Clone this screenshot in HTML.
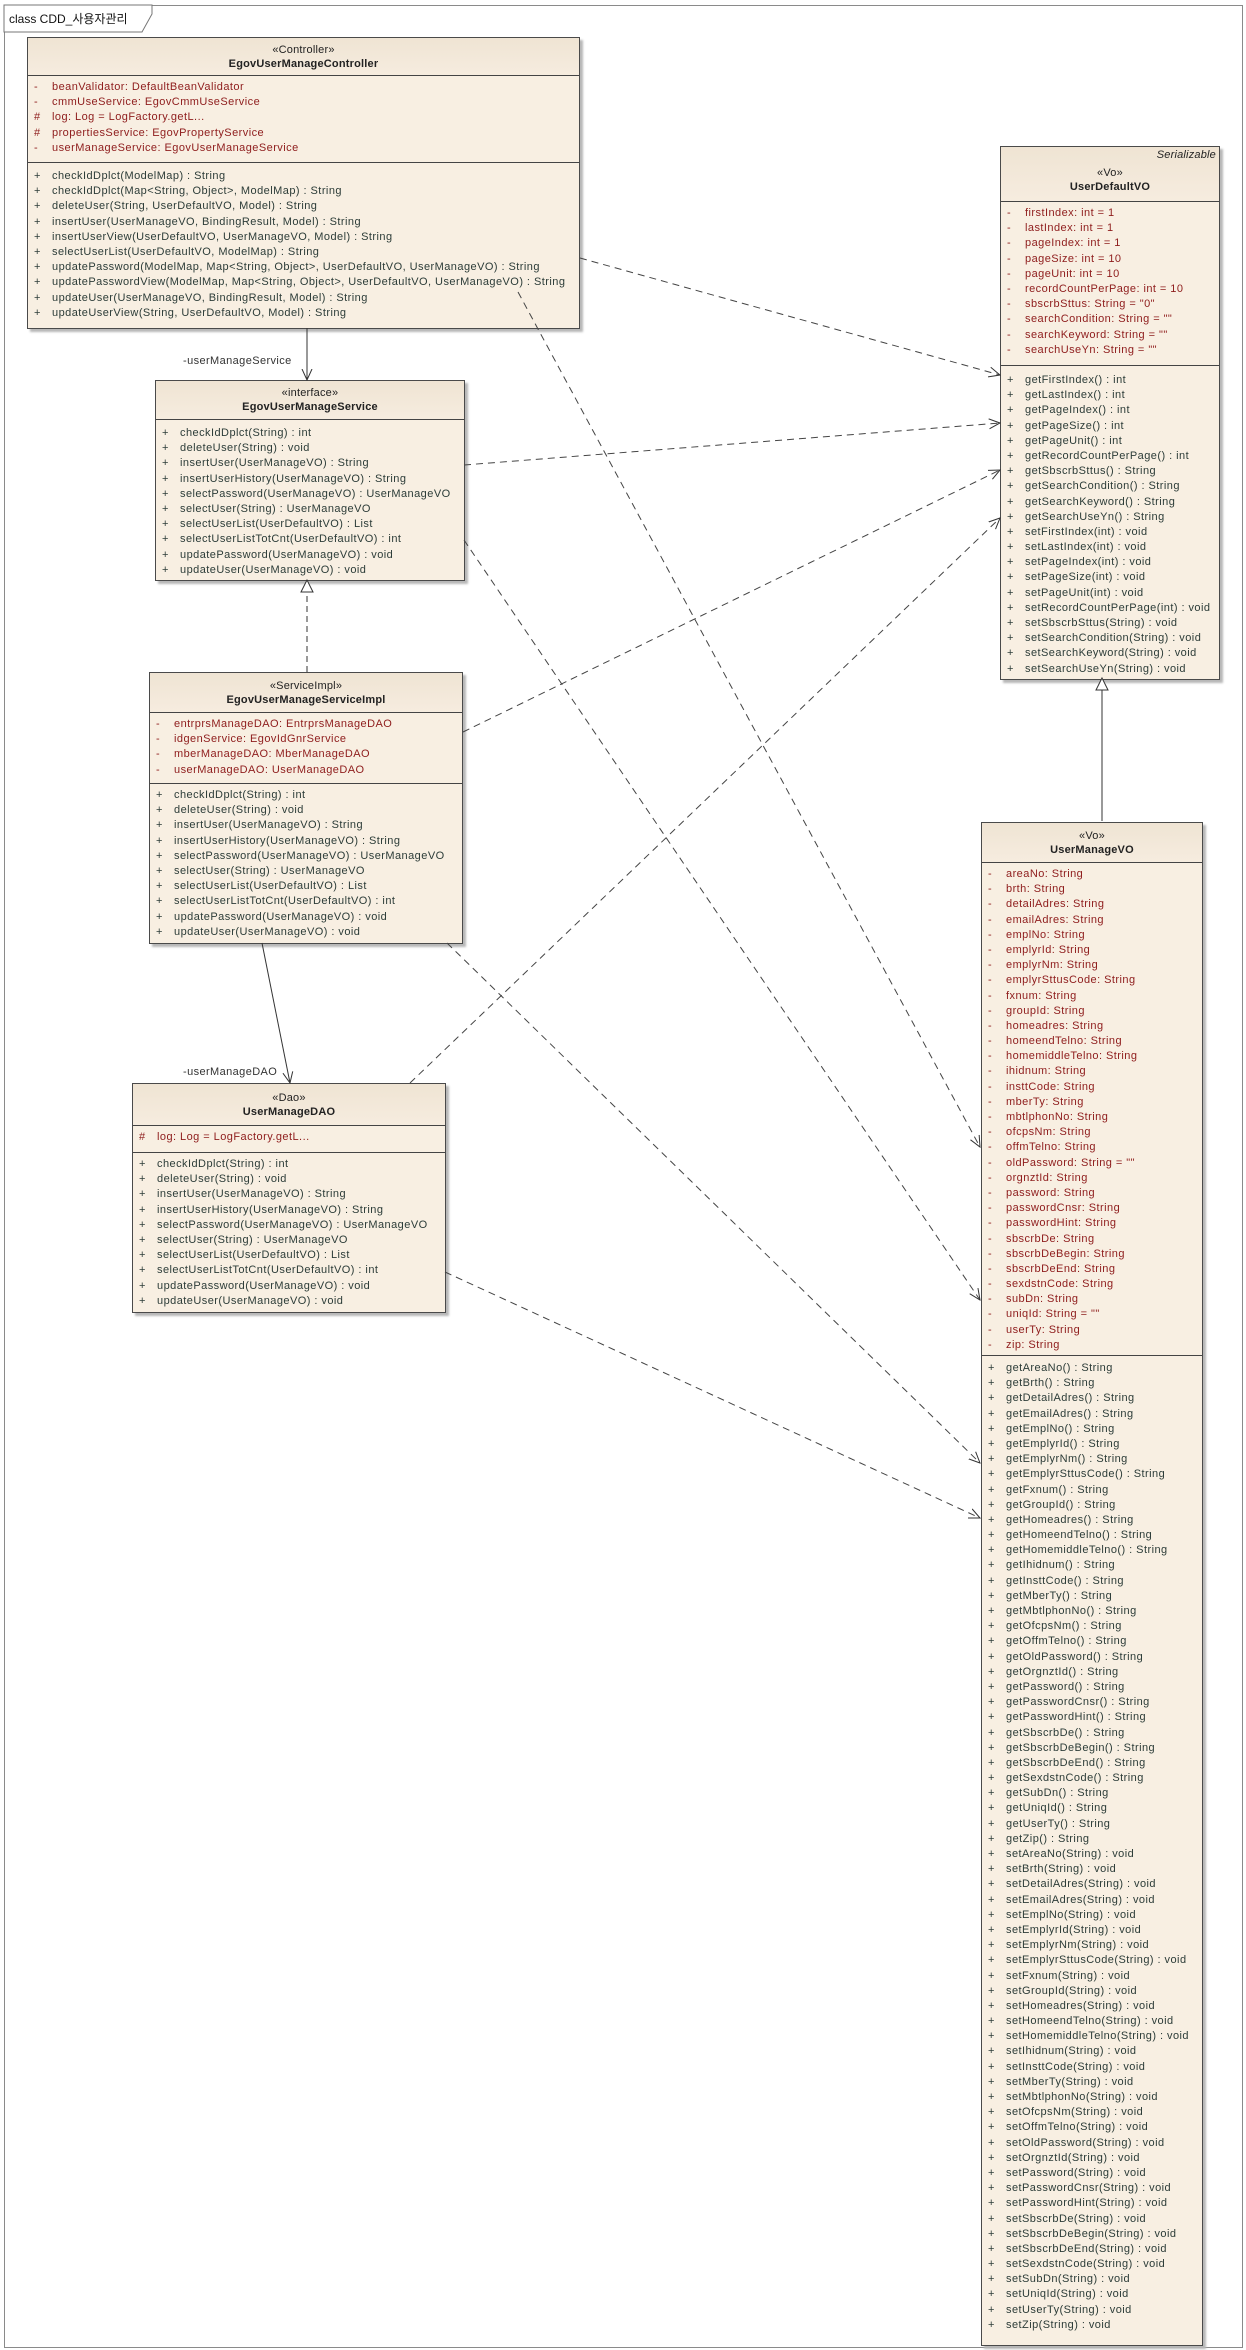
<!DOCTYPE html>
<html><head><meta charset="utf-8">
<style>
html,body{margin:0;padding:0;background:#fff;}
body{width:1246px;height:2350px;position:relative;overflow:hidden;font-family:"Liberation Sans","Noto Sans CJK KR",sans-serif;}
.frame{position:absolute;left:4px;top:5px;width:1237px;height:2341px;border:1px solid #8a8a8a;}
.box{position:absolute;background:#f8efe2;border:1px solid #4a4a4a;box-shadow:3px 3px 2px #b8b8b8;display:flex;flex-direction:column;font-size:11px;letter-spacing:0.45px;}
.hd{background:linear-gradient(#efe4d3,#f6ecdf);text-align:center;border-bottom:1px solid #444;box-sizing:border-box;display:flex;flex-direction:column;justify-content:center;color:#222;line-height:14px;letter-spacing:0.2px;}
.hd b{font-size:11px;}
.sec{box-sizing:border-box;padding-top:4px;}
.sec.a{border-bottom:1px solid #444;color:#8e1c1c;}
.sec.m{color:#2c3c38;}
.r{height:15.2px;line-height:15.2px;white-space:nowrap;position:relative;padding-left:24px;}
.r i{position:absolute;left:6px;font-style:normal;}
.lbl{position:absolute;font-size:11px;color:#333;letter-spacing:0.4px;}
svg{position:absolute;left:0;top:0;}
</style></head><body>
<div class="frame"></div>
<svg width="1246" height="2350" style="z-index:0">
<polygon points="4,5 152,5 152,14 142,32 4,32" fill="#fff" stroke="#777" stroke-width="1"/>
<text x="9" y="23" font-size="12" font-family="Liberation Sans, Noto Sans CJK KR, sans-serif" fill="#111">class CDD_사용자관리</text>
</svg>

<svg width="1246" height="2350" style="z-index:2;pointer-events:none">
<defs>
<marker id="op" markerWidth="12" markerHeight="12" refX="11" refY="6" orient="auto" markerUnits="userSpaceOnUse"><path d="M0,1 L11,6 L0,11" fill="none" stroke="#333" stroke-width="1"/></marker>
</defs>
<g stroke="#333" stroke-width="1" fill="none">
<line x1="307" y1="328" x2="307" y2="380" marker-end="url(#op)"/>
<line x1="262" y1="943" x2="290" y2="1083" marker-end="url(#op)"/>
<line x1="1102" y1="821" x2="1102" y2="690"/>
<polygon points="1102,678 1096,690 1108,690" fill="#fff"/>
<line x1="307" y1="672" x2="307" y2="592" stroke-dasharray="6,4"/>
<polygon points="307,580 301,592 313,592" fill="#fff"/>
</g>
<g stroke="#444" stroke-width="1" fill="none" stroke-dasharray="7,5">
<line x1="580" y1="258" x2="1000" y2="375" marker-end="url(#op)"/>
<line x1="518" y1="292" x2="980" y2="1147" marker-end="url(#op)"/>
<line x1="464" y1="465" x2="1000" y2="423" marker-end="url(#op)"/>
<line x1="464" y1="540" x2="980" y2="1300" marker-end="url(#op)"/>
<line x1="463" y1="732" x2="1000" y2="470" marker-end="url(#op)"/>
<line x1="447" y1="943" x2="980" y2="1463" marker-end="url(#op)"/>
<line x1="410" y1="1083" x2="1000" y2="518" marker-end="url(#op)"/>
<line x1="445" y1="1272" x2="980" y2="1518" marker-end="url(#op)"/>
</g>
</svg>

<div class="lbl" style="left:183px;top:355px;">-userManageService</div>
<div class="lbl" style="left:183px;top:1066px;">-userManageDAO</div>

<!-- Controller -->
<div class="box" style="left:27px;top:37px;width:551px;height:290px;z-index:1">
<div class="hd" style="height:38px">«Controller»<b>EgovUserManageController</b></div>
<div class="sec a" style="height:87px">
<div class="r"><i>-</i>beanValidator:  DefaultBeanValidator</div>
<div class="r"><i>-</i>cmmUseService:  EgovCmmUseService</div>
<div class="r"><i>#</i>log:  Log = LogFactory.getL...</div>
<div class="r"><i>#</i>propertiesService:  EgovPropertyService</div>
<div class="r"><i>-</i>userManageService:  EgovUserManageService</div>
</div>
<div class="sec m" style="flex:1;padding-top:6px">
<div class="r"><i>+</i>checkIdDplct(ModelMap) : String</div>
<div class="r"><i>+</i>checkIdDplct(Map&lt;String, Object&gt;, ModelMap) : String</div>
<div class="r"><i>+</i>deleteUser(String, UserDefaultVO, Model) : String</div>
<div class="r"><i>+</i>insertUser(UserManageVO, BindingResult, Model) : String</div>
<div class="r"><i>+</i>insertUserView(UserDefaultVO, UserManageVO, Model) : String</div>
<div class="r"><i>+</i>selectUserList(UserDefaultVO, ModelMap) : String</div>
<div class="r"><i>+</i>updatePassword(ModelMap, Map&lt;String, Object&gt;, UserDefaultVO, UserManageVO) : String</div>
<div class="r"><i>+</i>updatePasswordView(ModelMap, Map&lt;String, Object&gt;, UserDefaultVO, UserManageVO) : String</div>
<div class="r"><i>+</i>updateUser(UserManageVO, BindingResult, Model) : String</div>
<div class="r"><i>+</i>updateUserView(String, UserDefaultVO, Model) : String</div>
</div></div>

<!-- Service -->
<div class="box" style="left:155px;top:380px;width:308px;height:199px;z-index:1">
<div class="hd" style="height:39px">«interface»<b>EgovUserManageService</b></div>
<div class="sec m" style="flex:1;padding-top:6px">
<div class="r"><i>+</i>checkIdDplct(String) : int</div>
<div class="r"><i>+</i>deleteUser(String) : void</div>
<div class="r"><i>+</i>insertUser(UserManageVO) : String</div>
<div class="r"><i>+</i>insertUserHistory(UserManageVO) : String</div>
<div class="r"><i>+</i>selectPassword(UserManageVO) : UserManageVO</div>
<div class="r"><i>+</i>selectUser(String) : UserManageVO</div>
<div class="r"><i>+</i>selectUserList(UserDefaultVO) : List</div>
<div class="r"><i>+</i>selectUserListTotCnt(UserDefaultVO) : int</div>
<div class="r"><i>+</i>updatePassword(UserManageVO) : void</div>
<div class="r"><i>+</i>updateUser(UserManageVO) : void</div>
</div></div>

<!-- ServiceImpl -->
<div class="box" style="left:149px;top:672px;width:312px;height:270px;z-index:1">
<div class="hd" style="height:40px">«ServiceImpl»<b>EgovUserManageServiceImpl</b></div>
<div class="sec a" style="height:71px">
<div class="r"><i>-</i>entrprsManageDAO:  EntrprsManageDAO</div>
<div class="r"><i>-</i>idgenService:  EgovIdGnrService</div>
<div class="r"><i>-</i>mberManageDAO:  MberManageDAO</div>
<div class="r"><i>-</i>userManageDAO:  UserManageDAO</div>
</div>
<div class="sec m" style="flex:1;padding-top:4px">
<div class="r"><i>+</i>checkIdDplct(String) : int</div>
<div class="r"><i>+</i>deleteUser(String) : void</div>
<div class="r"><i>+</i>insertUser(UserManageVO) : String</div>
<div class="r"><i>+</i>insertUserHistory(UserManageVO) : String</div>
<div class="r"><i>+</i>selectPassword(UserManageVO) : UserManageVO</div>
<div class="r"><i>+</i>selectUser(String) : UserManageVO</div>
<div class="r"><i>+</i>selectUserList(UserDefaultVO) : List</div>
<div class="r"><i>+</i>selectUserListTotCnt(UserDefaultVO) : int</div>
<div class="r"><i>+</i>updatePassword(UserManageVO) : void</div>
<div class="r"><i>+</i>updateUser(UserManageVO) : void</div>
</div></div>

<!-- DAO -->
<div class="box" style="left:132px;top:1083px;width:312px;height:228px;z-index:1">
<div class="hd" style="height:42px">«Dao»<b>UserManageDAO</b></div>
<div class="sec a" style="height:27px">
<div class="r"><i>#</i>log:  Log = LogFactory.getL...</div>
</div>
<div class="sec m" style="flex:1;padding-top:4px">
<div class="r"><i>+</i>checkIdDplct(String) : int</div>
<div class="r"><i>+</i>deleteUser(String) : void</div>
<div class="r"><i>+</i>insertUser(UserManageVO) : String</div>
<div class="r"><i>+</i>insertUserHistory(UserManageVO) : String</div>
<div class="r"><i>+</i>selectPassword(UserManageVO) : UserManageVO</div>
<div class="r"><i>+</i>selectUser(String) : UserManageVO</div>
<div class="r"><i>+</i>selectUserList(UserDefaultVO) : List</div>
<div class="r"><i>+</i>selectUserListTotCnt(UserDefaultVO) : int</div>
<div class="r"><i>+</i>updatePassword(UserManageVO) : void</div>
<div class="r"><i>+</i>updateUser(UserManageVO) : void</div>
</div></div>

<!-- UserDefaultVO -->
<div class="box" style="left:1000px;top:146px;width:218px;height:532px;z-index:1">
<div class="hd" style="height:55px;position:relative;padding-top:12px"><span style="position:absolute;right:3px;top:1px;font-style:italic">Serializable</span>«Vo»<b>UserDefaultVO</b></div>
<div class="sec a" style="height:164px">
<div class="r"><i>-</i>firstIndex:  int = 1</div>
<div class="r"><i>-</i>lastIndex:  int = 1</div>
<div class="r"><i>-</i>pageIndex:  int = 1</div>
<div class="r"><i>-</i>pageSize:  int = 10</div>
<div class="r"><i>-</i>pageUnit:  int = 10</div>
<div class="r"><i>-</i>recordCountPerPage:  int = 10</div>
<div class="r"><i>-</i>sbscrbSttus:  String = "0"</div>
<div class="r"><i>-</i>searchCondition:  String = ""</div>
<div class="r"><i>-</i>searchKeyword:  String = ""</div>
<div class="r"><i>-</i>searchUseYn:  String = ""</div>
</div>
<div class="sec m" style="flex:1;padding-top:7px">
<div class="r"><i>+</i>getFirstIndex() : int</div>
<div class="r"><i>+</i>getLastIndex() : int</div>
<div class="r"><i>+</i>getPageIndex() : int</div>
<div class="r"><i>+</i>getPageSize() : int</div>
<div class="r"><i>+</i>getPageUnit() : int</div>
<div class="r"><i>+</i>getRecordCountPerPage() : int</div>
<div class="r"><i>+</i>getSbscrbSttus() : String</div>
<div class="r"><i>+</i>getSearchCondition() : String</div>
<div class="r"><i>+</i>getSearchKeyword() : String</div>
<div class="r"><i>+</i>getSearchUseYn() : String</div>
<div class="r"><i>+</i>setFirstIndex(int) : void</div>
<div class="r"><i>+</i>setLastIndex(int) : void</div>
<div class="r"><i>+</i>setPageIndex(int) : void</div>
<div class="r"><i>+</i>setPageSize(int) : void</div>
<div class="r"><i>+</i>setPageUnit(int) : void</div>
<div class="r"><i>+</i>setRecordCountPerPage(int) : void</div>
<div class="r"><i>+</i>setSbscrbSttus(String) : void</div>
<div class="r"><i>+</i>setSearchCondition(String) : void</div>
<div class="r"><i>+</i>setSearchKeyword(String) : void</div>
<div class="r"><i>+</i>setSearchUseYn(String) : void</div>
</div></div>

<!-- UserManageVO -->
<div class="box" style="left:981px;top:822px;width:220px;height:1522px;z-index:1">
<div class="hd" style="height:40px">«Vo»<b>UserManageVO</b></div>
<div class="sec a" style="height:493px">
<div class="r"><i>-</i>areaNo:  String</div>
<div class="r"><i>-</i>brth:  String</div>
<div class="r"><i>-</i>detailAdres:  String</div>
<div class="r"><i>-</i>emailAdres:  String</div>
<div class="r"><i>-</i>emplNo:  String</div>
<div class="r"><i>-</i>emplyrId:  String</div>
<div class="r"><i>-</i>emplyrNm:  String</div>
<div class="r"><i>-</i>emplyrSttusCode:  String</div>
<div class="r"><i>-</i>fxnum:  String</div>
<div class="r"><i>-</i>groupId:  String</div>
<div class="r"><i>-</i>homeadres:  String</div>
<div class="r"><i>-</i>homeendTelno:  String</div>
<div class="r"><i>-</i>homemiddleTelno:  String</div>
<div class="r"><i>-</i>ihidnum:  String</div>
<div class="r"><i>-</i>insttCode:  String</div>
<div class="r"><i>-</i>mberTy:  String</div>
<div class="r"><i>-</i>mbtlphonNo:  String</div>
<div class="r"><i>-</i>ofcpsNm:  String</div>
<div class="r"><i>-</i>offmTelno:  String</div>
<div class="r"><i>-</i>oldPassword:  String = ""</div>
<div class="r"><i>-</i>orgnztId:  String</div>
<div class="r"><i>-</i>password:  String</div>
<div class="r"><i>-</i>passwordCnsr:  String</div>
<div class="r"><i>-</i>passwordHint:  String</div>
<div class="r"><i>-</i>sbscrbDe:  String</div>
<div class="r"><i>-</i>sbscrbDeBegin:  String</div>
<div class="r"><i>-</i>sbscrbDeEnd:  String</div>
<div class="r"><i>-</i>sexdstnCode:  String</div>
<div class="r"><i>-</i>subDn:  String</div>
<div class="r"><i>-</i>uniqId:  String = ""</div>
<div class="r"><i>-</i>userTy:  String</div>
<div class="r"><i>-</i>zip:  String</div>
</div>
<div class="sec m" style="flex:1;padding-top:5px">
<div class="r"><i>+</i>getAreaNo() : String</div>
<div class="r"><i>+</i>getBrth() : String</div>
<div class="r"><i>+</i>getDetailAdres() : String</div>
<div class="r"><i>+</i>getEmailAdres() : String</div>
<div class="r"><i>+</i>getEmplNo() : String</div>
<div class="r"><i>+</i>getEmplyrId() : String</div>
<div class="r"><i>+</i>getEmplyrNm() : String</div>
<div class="r"><i>+</i>getEmplyrSttusCode() : String</div>
<div class="r"><i>+</i>getFxnum() : String</div>
<div class="r"><i>+</i>getGroupId() : String</div>
<div class="r"><i>+</i>getHomeadres() : String</div>
<div class="r"><i>+</i>getHomeendTelno() : String</div>
<div class="r"><i>+</i>getHomemiddleTelno() : String</div>
<div class="r"><i>+</i>getIhidnum() : String</div>
<div class="r"><i>+</i>getInsttCode() : String</div>
<div class="r"><i>+</i>getMberTy() : String</div>
<div class="r"><i>+</i>getMbtlphonNo() : String</div>
<div class="r"><i>+</i>getOfcpsNm() : String</div>
<div class="r"><i>+</i>getOffmTelno() : String</div>
<div class="r"><i>+</i>getOldPassword() : String</div>
<div class="r"><i>+</i>getOrgnztId() : String</div>
<div class="r"><i>+</i>getPassword() : String</div>
<div class="r"><i>+</i>getPasswordCnsr() : String</div>
<div class="r"><i>+</i>getPasswordHint() : String</div>
<div class="r"><i>+</i>getSbscrbDe() : String</div>
<div class="r"><i>+</i>getSbscrbDeBegin() : String</div>
<div class="r"><i>+</i>getSbscrbDeEnd() : String</div>
<div class="r"><i>+</i>getSexdstnCode() : String</div>
<div class="r"><i>+</i>getSubDn() : String</div>
<div class="r"><i>+</i>getUniqId() : String</div>
<div class="r"><i>+</i>getUserTy() : String</div>
<div class="r"><i>+</i>getZip() : String</div>
<div class="r"><i>+</i>setAreaNo(String) : void</div>
<div class="r"><i>+</i>setBrth(String) : void</div>
<div class="r"><i>+</i>setDetailAdres(String) : void</div>
<div class="r"><i>+</i>setEmailAdres(String) : void</div>
<div class="r"><i>+</i>setEmplNo(String) : void</div>
<div class="r"><i>+</i>setEmplyrId(String) : void</div>
<div class="r"><i>+</i>setEmplyrNm(String) : void</div>
<div class="r"><i>+</i>setEmplyrSttusCode(String) : void</div>
<div class="r"><i>+</i>setFxnum(String) : void</div>
<div class="r"><i>+</i>setGroupId(String) : void</div>
<div class="r"><i>+</i>setHomeadres(String) : void</div>
<div class="r"><i>+</i>setHomeendTelno(String) : void</div>
<div class="r"><i>+</i>setHomemiddleTelno(String) : void</div>
<div class="r"><i>+</i>setIhidnum(String) : void</div>
<div class="r"><i>+</i>setInsttCode(String) : void</div>
<div class="r"><i>+</i>setMberTy(String) : void</div>
<div class="r"><i>+</i>setMbtlphonNo(String) : void</div>
<div class="r"><i>+</i>setOfcpsNm(String) : void</div>
<div class="r"><i>+</i>setOffmTelno(String) : void</div>
<div class="r"><i>+</i>setOldPassword(String) : void</div>
<div class="r"><i>+</i>setOrgnztId(String) : void</div>
<div class="r"><i>+</i>setPassword(String) : void</div>
<div class="r"><i>+</i>setPasswordCnsr(String) : void</div>
<div class="r"><i>+</i>setPasswordHint(String) : void</div>
<div class="r"><i>+</i>setSbscrbDe(String) : void</div>
<div class="r"><i>+</i>setSbscrbDeBegin(String) : void</div>
<div class="r"><i>+</i>setSbscrbDeEnd(String) : void</div>
<div class="r"><i>+</i>setSexdstnCode(String) : void</div>
<div class="r"><i>+</i>setSubDn(String) : void</div>
<div class="r"><i>+</i>setUniqId(String) : void</div>
<div class="r"><i>+</i>setUserTy(String) : void</div>
<div class="r"><i>+</i>setZip(String) : void</div>
</div></div>
</body></html>
